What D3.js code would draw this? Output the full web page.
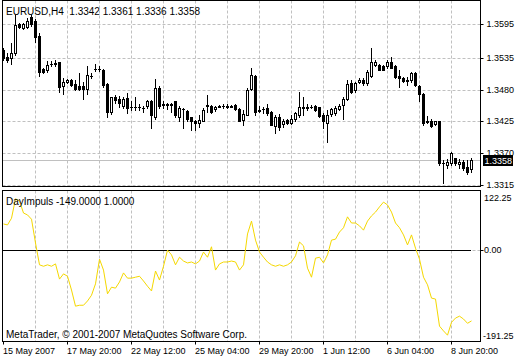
<!DOCTYPE html>
<html><head><meta charset="utf-8">
<script src="https://cdn.jsdelivr.net/npm/d3@7"></script>
<style>
html,body{margin:0;padding:0;background:#fff;}
svg{display:block;font-family:"Liberation Sans",Arial,sans-serif;font-size:10px;}
text{white-space:pre;}
</style></head><body>
<svg id="c" width="520" height="360"></svg>
<script>
const symbol = "EURUSD,H4";
const indicatorName = "DayImpuls";
const copyright = "MetaTrader, © 2001-2007 MetaQuotes Software Corp.";

const opens = [1.3550,1.3538,1.3535,1.3544,1.3595,1.3588,1.3589,1.3608,1.3601,1.3574,
1.3516,1.3515,1.3526,1.3527,1.3528,1.3487,1.3493,1.3497,1.3490,1.3487,
1.3487,1.3482,1.3505,1.3517,1.3516,1.3514,1.3490,1.3442,1.3467,1.3465,
1.3452,1.3466,1.3451,1.3450,1.3451,1.3449,1.3452,1.3460,1.3433,1.3483,
1.3455,1.3454,1.3455,1.3460,1.3433,1.3447,1.3443,1.3432,1.3426,1.3422,
1.3426,1.3452,1.3452,1.3446,1.3451,1.3452,1.3452,1.3451,1.3454,1.3446,
1.3427,1.3437,1.3481,1.3504,1.3445,1.3446,1.3448,1.3442,1.3417,1.3433,
1.3420,1.3427,1.3423,1.3430,1.3436,1.3450,1.3449,1.3450,1.3452,1.3450,
1.3437,1.3422,1.3438,1.3439,1.3446,1.3454,1.3464,1.3492,1.3479,1.3493,
1.3497,1.3492,1.3504,1.3524,1.3524,1.3522,1.3521,1.3529,1.3522,1.3504,
1.3500,1.3497,1.3497,1.3510,1.3487,1.3473,1.3425,1.3426,1.3420,1.3425,
1.3353,1.3349,1.3352,1.3361,1.3351,1.3355,1.3346,1.3342];
const highs = [1.3553,1.3544,1.3561,1.3611,1.3597,1.3596,1.3605,1.3611,1.3603,1.3579,
1.3518,1.3531,1.3531,1.3532,1.3529,1.3500,1.3499,1.3499,1.3497,1.3510,
1.3494,1.3521,1.3510,1.3525,1.3521,1.3516,1.3492,1.3468,1.3471,1.3469,
1.3468,1.3474,1.3460,1.3468,1.3455,1.3452,1.3462,1.3462,1.3499,1.3486,
1.3460,1.3458,1.3458,1.3461,1.3452,1.3448,1.3445,1.3433,1.3427,1.3436,
1.3448,1.3471,1.3454,1.3452,1.3454,1.3455,1.3455,1.3454,1.3455,1.3448,
1.3445,1.3483,1.3518,1.3506,1.3452,1.3451,1.3455,1.3443,1.3436,1.3438,
1.3430,1.3430,1.3436,1.3442,1.3477,1.3468,1.3455,1.3454,1.3453,1.3451,
1.3439,1.3445,1.3448,1.3452,1.3455,1.3468,1.3498,1.3498,1.3494,1.3500,
1.3500,1.3515,1.3553,1.3532,1.3525,1.3524,1.3532,1.3538,1.3524,1.3514,
1.3502,1.3502,1.3512,1.3512,1.3489,1.3474,1.3434,1.3429,1.3426,1.3426,
1.3358,1.3359,1.3372,1.3362,1.3359,1.3358,1.3358,1.3361];
const lows = [1.3532,1.3529,1.3525,1.3541,1.3588,1.3586,1.3588,1.3592,1.3563,1.3504,
1.3510,1.3512,1.3521,1.3522,1.3477,1.3473,1.3492,1.3487,1.3480,1.3480,
1.3464,1.3473,1.3501,1.3513,1.3513,1.3485,1.3433,1.3438,1.3457,1.3451,
1.3448,1.3439,1.3445,1.3445,1.3445,1.3442,1.3448,1.3413,1.3430,1.3448,
1.3448,1.3446,1.3442,1.3433,1.3425,1.3413,1.3425,1.3410,1.3410,1.3416,
1.3425,1.3442,1.3439,1.3444,1.3450,1.3448,1.3448,1.3450,1.3445,1.3425,
1.3419,1.3436,1.3480,1.3436,1.3442,1.3439,1.3436,1.3418,1.3404,1.3410,
1.3416,1.3421,1.3420,1.3426,1.3433,1.3436,1.3445,1.3448,1.3444,1.3432,
1.3413,1.3390,1.3434,1.3436,1.3445,1.3429,1.3462,1.3475,1.3477,1.3492,
1.3489,1.3489,1.3503,1.3521,1.3514,1.3514,1.3518,1.3518,1.3500,1.3485,
1.3494,1.3489,1.3494,1.3487,1.3460,1.3419,1.3422,1.3416,1.3419,1.3349,
1.3317,1.3343,1.3349,1.3349,1.3343,1.3340,1.3333,1.3336];
const closes = [1.3535,1.3533,1.3545,1.3593,1.3590,1.3595,1.3601,1.3595,1.3573,1.3512,
1.3512,1.3523,1.3526,1.3526,1.3485,1.3493,1.3497,1.3489,1.3481,1.3482,
1.3481,1.3506,1.3504,1.3516,1.3517,1.3489,1.3441,1.3467,1.3462,1.3457,
1.3465,1.3448,1.3450,1.3451,1.3450,1.3448,1.3461,1.3436,1.3483,1.3452,
1.3454,1.3455,1.3454,1.3436,1.3448,1.3446,1.3429,1.3425,1.3422,1.3427,
1.3445,1.3453,1.3442,1.3451,1.3452,1.3452,1.3451,1.3452,1.3446,1.3426,
1.3438,1.3480,1.3506,1.3442,1.3444,1.3447,1.3439,1.3419,1.3432,1.3416,
1.3426,1.3422,1.3430,1.3439,1.3451,1.3449,1.3450,1.3451,1.3445,1.3434,
1.3425,1.3436,1.3446,1.3448,1.3452,1.3464,1.3490,1.3477,1.3492,1.3497,
1.3492,1.3512,1.3529,1.3528,1.3515,1.3515,1.3529,1.3519,1.3503,1.3500,
1.3496,1.3496,1.3510,1.3489,1.3473,1.3422,1.3424,1.3417,1.3425,1.3352,
1.3353,1.3355,1.3370,1.3352,1.3355,1.3343,1.3337,1.3358];

const impulse = [55,53,67,108,103,78,74,65,15,-31,
-34,-31,-34,-29,-61,-50,-55,-84,-118,-116,
-116,-107,-95,-71,-19,-42,-92,-78,-80,-67,
-48,-59,-59,-57,-55,-65,-76,-86,-44,-63,
-34,0,-10,-31,-15,-23,-27,-25,-29,-23,
-4,-15,7,-42,-29,-25,-25,-23,-25,-42,
-31,34,61,21,-4,-15,-25,-31,-34,-31,
-34,-31,-25,-12,17,9,-38,-57,-17,-15,
-27,-10,21,23,38,47,70,57,57,51,
42,61,72,80,91,101,95,80,57,47,
32,11,32,4,-19,-57,-73,-101,-103,-160,
-170,-179,-152,-143,-139,-145,-154,-149];
const signalLevel = 1;

const timeTickIndex = [0,16,32,48,64,80,96,112];
const timeTickLabels = ["15 May 2007","17 May 20:00","22 May 12:00","25 May 04:00","29 May 20:00","1 Jun 12:00","6 Jun 04:00","8 Jun 20:00"];
const priceTicks = [1.3315,1.3370,1.3425,1.3480,1.3535,1.3595];
const impulseTicks = [122.25,0.00,-191.25];
const lastPrice = 1.3358;

const loc = d3.formatLocale({decimal: ".", thousands: ",", grouping: [3], currency: ["", ""], minus: "-"});
const f4 = loc.format(".4f"), f2 = loc.format(".2f");
const FONT = "Liberation Sans, Arial, sans-serif";

const svg = d3.select("#c");
const n = closes.length;
const L = 2.5, R = 480.5;
const mainTop = 0.5, mainBot = 186.5, indTop = 190.5, indBot = 341.5;

const x = d3.scaleLinear().domain([0, n - 1]).range([3, 3 + 4 * (n - 1)]);
const y = d3.scaleLinear().domain([1.3315, 1.3595]).range([184.5, 24]);
const yi = d3.scaleLinear().domain([-191.25, 122.25]).range([341, 192]);
const grid = "#c0c0c0";
const gridIdx = d3.range(8, n, 8);

// grid main
const gm = svg.append("g");
gm.selectAll("line.v").data(gridIdx).join("line")
  .attr("x1", d => x(d) + 0.5).attr("x2", d => x(d) + 0.5)
  .attr("y1", mainTop).attr("y2", mainBot)
  .attr("stroke", grid).attr("stroke-dasharray", "3,2");
gm.selectAll("line.h").data(priceTicks).join("line")
  .attr("x1", L).attr("x2", R)
  .attr("y1", d => Math.round(y(d)) + 0.5).attr("y2", d => Math.round(y(d)) + 0.5)
  .attr("stroke", grid).attr("stroke-dasharray", "3,2");
// current price line
svg.append("line").attr("x1", L).attr("x2", R)
  .attr("y1", Math.round(y(lastPrice)) + 0.5).attr("y2", Math.round(y(lastPrice)) + 0.5)
  .attr("stroke", grid);

// candles
const idx = d3.range(n);
const cg = svg.append("g");
cg.selectAll("line.w").data(idx).join("line")
  .attr("x1", i => x(i) + 0.5).attr("x2", i => x(i) + 0.5)
  .attr("y1", i => Math.round(y(highs[i]))).attr("y2", i => Math.round(y(lows[i])) + 1)
  .attr("stroke", "#000");
idx.forEach(i => {
  const X = x(i);
  const t = Math.round(y(Math.max(opens[i], closes[i])));
  const b = Math.round(y(Math.min(opens[i], closes[i])));
  if (b - t < 1) {
    cg.append("rect").attr("x", X - 1).attr("y", t).attr("width", 3).attr("height", 1).attr("fill", "#000");
  } else if (closes[i] > opens[i]) {
    cg.append("rect").attr("x", X - 0.5).attr("y", t + 0.5).attr("width", 2).attr("height", b - t)
      .attr("fill", "#fff").attr("stroke", "#000");
  } else {
    cg.append("rect").attr("x", X - 1).attr("y", t).attr("width", 3).attr("height", b - t + 1).attr("fill", "#000");
  }
});

// indicator grid
const gi = svg.append("g");
gi.selectAll("line").data(gridIdx).join("line")
  .attr("x1", d => x(d) + 0.5).attr("x2", d => x(d) + 0.5)
  .attr("y1", indTop).attr("y2", indBot)
  .attr("stroke", grid).attr("stroke-dasharray", "3,2");
gi.append("line").attr("x1", L).attr("x2", R)
  .attr("y1", Math.round(yi(0)) + 0.5).attr("y2", Math.round(yi(0)) + 0.5)
  .attr("stroke", grid).attr("stroke-dasharray", "3,2");
// signal line
svg.append("line").attr("x1", x(0)).attr("x2", x(n - 1))
  .attr("y1", Math.round(yi(signalLevel)) + 0.5).attr("y2", Math.round(yi(signalLevel)) + 0.5)
  .attr("stroke", "#000");
// impulse line
svg.append("path").datum(impulse)
  .attr("d", d3.line().x((d, i) => x(i) + 0.5).y(d => yi(d)))
  .attr("fill", "none").attr("stroke", "#f5d800").attr("stroke-width", 1);

// frames
svg.append("rect").attr("x", L).attr("y", mainTop).attr("width", R - L).attr("height", mainBot - mainTop)
  .attr("fill", "none").attr("stroke", "#000");
svg.append("rect").attr("x", L).attr("y", indTop).attr("width", R - L).attr("height", indBot - indTop)
  .attr("fill", "none").attr("stroke", "#000");

// price axis
const pa = svg.append("g").attr("transform", "translate(480.5,0)")
  .call(d3.axisRight(y).tickValues(priceTicks).tickFormat(f4).tickSize(3).tickPadding(3));
pa.select(".domain").remove();
pa.selectAll(".tick").attr("transform", d => `translate(0,${Math.round(y(d)) + 0.5})`);
pa.selectAll("text").attr("font-family", FONT).attr("font-size", 9).attr("fill", "#000");

// current price label
const cy = Math.round(y(lastPrice));
svg.append("rect").attr("x", 483).attr("y", cy - 5).attr("width", 30).attr("height", 11).attr("fill", "#000");
svg.append("text").attr("x", 484.5).attr("y", cy + 4).attr("fill", "#fff")
  .attr("font-size", 9).text(f4(lastPrice));

// indicator axis
const ia = svg.append("g").attr("transform", "translate(480.5,0)")
  .call(d3.axisRight(yi).tickValues(impulseTicks).tickFormat(f2).tickSize(3).tickPadding(3));
ia.select(".domain").remove();
ia.selectAll(".tick").attr("transform", d => {
  const shift = d === impulseTicks[0] ? 6 : (d === impulseTicks[2] ? -5 : 0);
  return `translate(0,${Math.round(yi(d)) + 0.5 + shift})`;
});
ia.selectAll(".tick line").attr("stroke-opacity", d => d === 0 ? 1 : 0);
ia.selectAll(".tick text").attr("x", d => d < 0 ? 2.5 : 3.5);
ia.selectAll("text").attr("font-family", FONT).attr("font-size", 9).attr("fill", "#000");

// time axis
const ta = svg.append("g").attr("transform", `translate(0,${indBot})`)
  .call(d3.axisBottom(x).tickValues(timeTickIndex).tickFormat((d, i) => timeTickLabels[i]).tickSize(3).tickPadding(3));
ta.select(".domain").remove();
ta.selectAll(".tick").attr("transform", d => `translate(${x(d) + 0.5},0)`);
ta.selectAll("text").attr("text-anchor", "start").attr("x", -0.5)
  .attr("font-family", FONT).attr("font-size", 9).attr("fill", "#000");

// labels
svg.append("text").attr("x", 6).attr("y", 15)
  .text(`${symbol}  ${f4(opens[n-1])} ${f4(highs[n-1])} ${f4(lows[n-1])} ${f4(closes[n-1])}`);
svg.append("text").attr("x", 6).attr("y", 205)
  .text(`${indicatorName} ${f4(impulse[n-1])} ${f4(signalLevel)}`);
svg.append("text").attr("x", 6).attr("y", 338).text(copyright);
</script>
</body></html>
